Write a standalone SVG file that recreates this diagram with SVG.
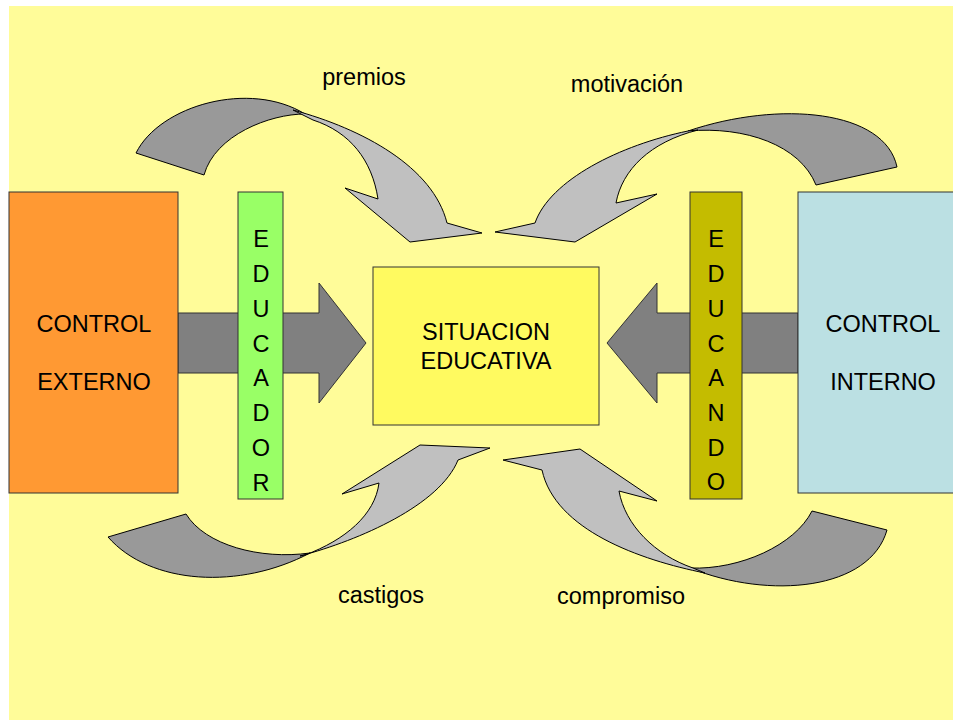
<svg xmlns="http://www.w3.org/2000/svg" width="953" height="720" viewBox="0 0 953 720">
<style>
text{font-family:"Liberation Sans",Arial,sans-serif;font-size:23.5px;fill:#000;text-anchor:middle}
.box{stroke:#333;stroke-width:1}
.dark{fill:#999999;stroke:#000;stroke-width:1;stroke-linejoin:round}
.light{fill:#C0C0C0;stroke:#000;stroke-width:1;stroke-linejoin:round}
.straight{fill:#808080;stroke:#333;stroke-width:1}
</style>
<rect x="0" y="0" width="953" height="720" fill="#FFFFFF"/>
<rect x="9" y="6" width="944" height="714" fill="#FFFC99"/>
<g id="connectors">
<g id="arrow-premios">
<path class="dark" d="M136,153 C160,105 250,80 305,114 C270,114 215,135 204,175 Z"/>
<path class="light" d="M293,110 C363,129 433,167 447,223 L482,233 L410,242 L345,188 L378,199 C372,160 350,132 313,120 Z"/>
</g>
<g id="arrow-motivacion">
<path class="dark" d="M897,167 C885,110 780,100 688,131 C745,126 800,145 816,185 Z"/>
<path class="light" d="M688,131 C620,145 550,180 535,223 L495,232 L575,242 L657,194 L616,203 C622,170 650,142 698,130 Z"/>
</g>
<g id="arrow-castigos">
<path class="dark" d="M108,537 C150,585 240,590 310,553 C260,560 205,545 186,514 Z"/>
<path class="light" d="M300,556 C360,540 440,505 458,460 L490,448 L420,445 L342,494 L379,483 C375,515 345,540 305,555 Z"/>
</g>
<g id="arrow-compromiso">
<path class="dark" d="M887,530 C870,590 770,600 690,568 C740,570 795,545 812,511 Z"/>
<path class="light" d="M705,573 C640,560 555,530 542,470 L503,460 L580,449 L657,501 L619,491 C625,525 655,555 693,568 Z"/>
</g>
<polygon id="arrow-left" class="straight" points="178,313 319,313 319,283 366,343 319,403 319,373 178,373"/>
<polygon id="arrow-right" class="straight" points="798,313 657,313 657,283 607,343 657,403 657,373 798,373"/>
</g>
<g id="control-externo">
<rect class="box" x="9" y="192" width="169" height="301" fill="#FF9933"/>
<text x="94" y="332">CONTROL</text>
<text x="94" y="390">EXTERNO</text>
</g>
<g id="educador">
<rect class="box" x="238" y="192" width="45" height="307" fill="#99FF66"/>
<text x="261" y="247">E</text>
<text x="261" y="282">D</text>
<text x="261" y="317">U</text>
<text x="261" y="352">C</text>
<text x="261" y="386">A</text>
<text x="261" y="421">D</text>
<text x="261" y="456">O</text>
<text x="261" y="491">R</text>
</g>
<g id="situacion-educativa">
<rect class="box" x="373" y="267" width="226" height="158" fill="#FFFA60"/>
<text x="486" y="340">SITUACION</text>
<text x="486" y="369">EDUCATIVA</text>
</g>
<g id="educando">
<rect class="box" x="690" y="192" width="52" height="307" fill="#C4BC00"/>
<text x="716" y="247">E</text>
<text x="716" y="282">D</text>
<text x="716" y="317">U</text>
<text x="716" y="352">C</text>
<text x="716" y="386">A</text>
<text x="716" y="421">N</text>
<text x="716" y="456">D</text>
<text x="716" y="490">O</text>
</g>
<g id="control-interno">
<rect class="box" x="798" y="192" width="160" height="301" fill="#BBE0E3"/>
<text x="883" y="332">CONTROL</text>
<text x="883" y="390">INTERNO</text>
</g>
<g id="labels">
<text x="364" y="85">premios</text>
<text x="627" y="92">motivación</text>
<text x="381" y="603">castigos</text>
<text x="621" y="604">compromiso</text>
</g>
</svg>
